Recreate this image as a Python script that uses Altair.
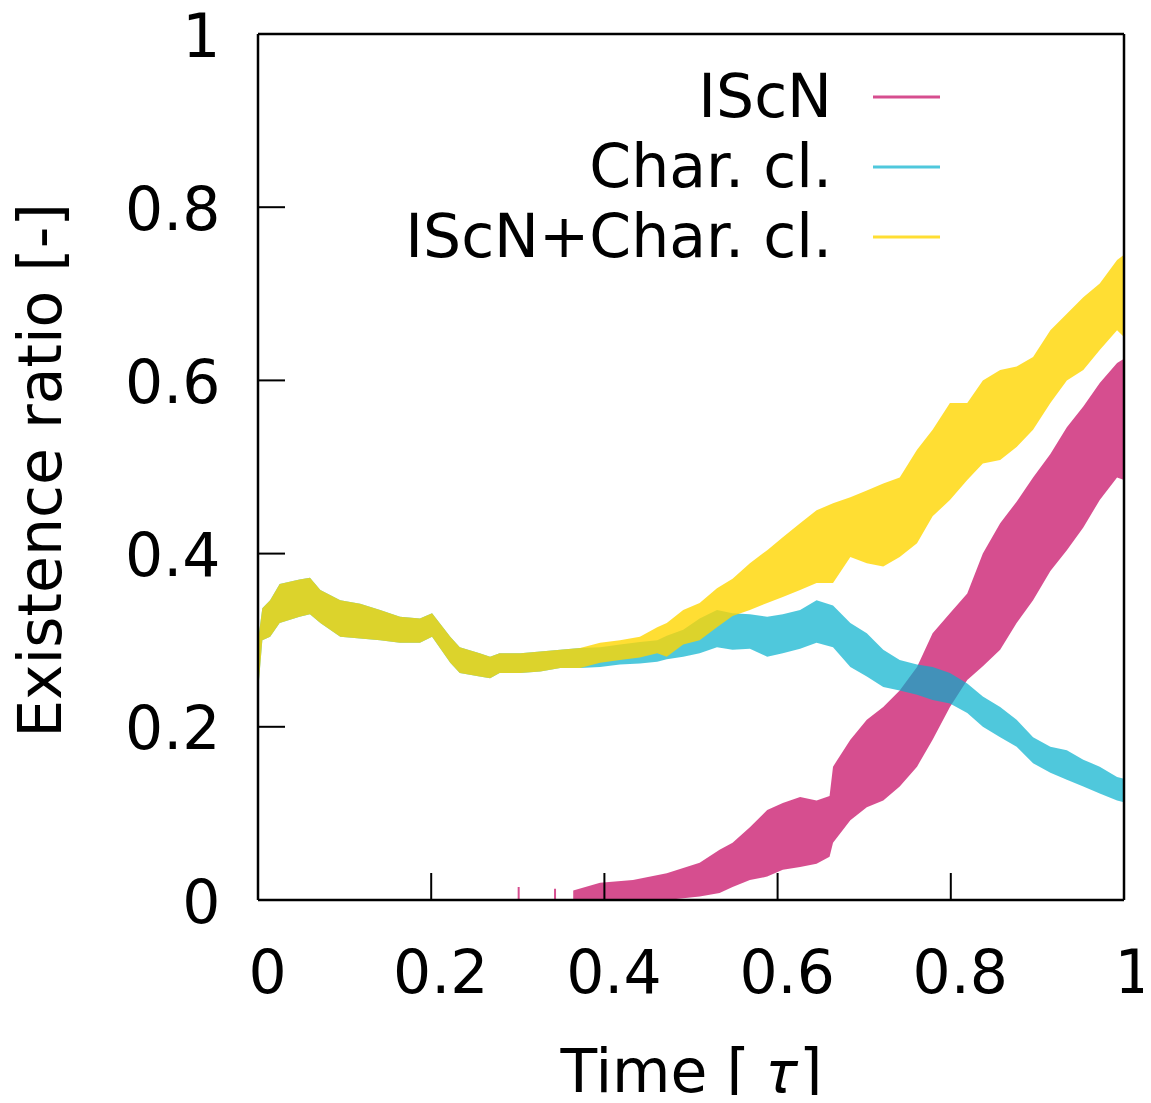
import altair as alt
import pandas as pd

# ---- data (band lower / upper edges) ----
T_ISCN = [0.364, 0.395, 0.433, 0.472, 0.510, 0.533, 0.548, 0.568, 0.588, 0.606,
          0.626, 0.645, 0.660, 0.664, 0.684, 0.703, 0.722, 0.741, 0.761, 0.779,
          0.799, 0.819, 0.837, 0.857, 0.876, 0.895, 0.915, 0.934, 0.953, 0.972,
          0.992, 1.0]
ISCN_LO = [0, 0, 0, 0, 0.004, 0.008, 0.015, 0.023, 0.027, 0.035,
           0.038, 0.042, 0.05, 0.066, 0.092, 0.107, 0.115, 0.131, 0.154, 0.185,
           0.223, 0.254, 0.27, 0.289, 0.32, 0.346, 0.38, 0.404, 0.43, 0.462,
           0.488, 0.485]
ISCN_HI = [0.011, 0.02, 0.023, 0.031, 0.043, 0.058, 0.066, 0.084, 0.104, 0.112,
           0.119, 0.115, 0.12, 0.154, 0.185, 0.208, 0.223, 0.242, 0.269, 0.308,
           0.331, 0.354, 0.40, 0.435, 0.46, 0.488, 0.515, 0.546, 0.57, 0.597,
           0.62, 0.625]
ISCN_SPIKE_T = [0.301, 0.343]
ISCN_SPIKE_V = [0.015, 0.013]

T_MAIN = [0, 0.005, 0.014, 0.025, 0.048, 0.06, 0.072, 0.095, 0.118, 0.141,
          0.164, 0.187, 0.201, 0.222, 0.233, 0.256, 0.268, 0.279, 0.303, 0.326,
          0.349, 0.372, 0.395, 0.418, 0.441, 0.461, 0.472, 0.491, 0.510, 0.530,
          0.548, 0.568, 0.588, 0.606, 0.626, 0.645, 0.664, 0.684, 0.703, 0.722,
          0.741, 0.761, 0.779, 0.799, 0.819, 0.837, 0.857, 0.876, 0.895, 0.915,
          0.934, 0.953, 0.972, 0.992, 1.0]
SUM_LO = [0.24, 0.30, 0.304, 0.32, 0.327, 0.33, 0.32, 0.304, 0.302, 0.30,
          0.297, 0.297, 0.304, 0.274, 0.262, 0.258, 0.256, 0.262, 0.262, 0.264,
          0.268, 0.268, 0.274, 0.277, 0.28, 0.285, 0.281, 0.295, 0.30, 0.315,
          0.328, 0.335, 0.343, 0.35, 0.358, 0.366, 0.366, 0.396, 0.389, 0.385,
          0.396, 0.412, 0.443, 0.462, 0.485, 0.504, 0.508, 0.523, 0.543, 0.574,
          0.60, 0.612, 0.635, 0.658, 0.65]
SUM_HI = [0.30, 0.337, 0.346, 0.365, 0.37, 0.372, 0.358, 0.346, 0.342, 0.335,
          0.327, 0.325, 0.331, 0.304, 0.292, 0.285, 0.281, 0.285, 0.285, 0.287,
          0.289, 0.291, 0.297, 0.30, 0.304, 0.315, 0.32, 0.335, 0.343, 0.36,
          0.371, 0.389, 0.404, 0.419, 0.435, 0.45, 0.458, 0.465, 0.473, 0.481,
          0.488, 0.52, 0.543, 0.574, 0.574, 0.60, 0.612, 0.616, 0.627, 0.658,
          0.677, 0.696, 0.712, 0.739, 0.745]
CHAR_LO = SUM_LO[:22] + [0.269, 0.272, 0.273, 0.275, 0.278, 0.281, 0.285, 0.292, 0.289, 0.29,
                         0.281, 0.285, 0.29, 0.297, 0.292, 0.269, 0.258, 0.246, 0.242, 0.237,
                         0.231, 0.227, 0.216, 0.20, 0.188, 0.177, 0.158, 0.147, 0.139, 0.131,
                         0.123, 0.115, 0.113]
CHAR_HI = SUM_HI[:22] + [0.292, 0.295, 0.298, 0.30, 0.305, 0.312, 0.325, 0.335, 0.331, 0.33,
                         0.327, 0.33, 0.335, 0.346, 0.34, 0.32, 0.308, 0.289, 0.277, 0.272,
                         0.269, 0.262, 0.25, 0.235, 0.223, 0.208, 0.188, 0.177, 0.173, 0.162,
                         0.154, 0.142, 0.14]

SERIES = ["IScN", "Char. cl.", "IScN+Char. cl."]
COLORS = ["#cc2273", "#00b0cd", "#ffd600"]
OPAC = [0.8, 0.69, 0.8]
TICKS = [0.2, 0.4, 0.6, 0.8]
ALL_TICKS = [0, 0.2, 0.4, 0.6, 0.8, 1]

W = 866
H = 866
FONT = "DejaVu Sans"
FS = 60
X_TITLE = "Time [ 𝜏]"
Y_TITLE = "Existence ratio [-]"

xsc = alt.Scale(domain=[0, 1], nice=False, zero=False)
ysc = alt.Scale(domain=[0, 1], nice=False)

x_axis = alt.Axis(values=ALL_TICKS, format=".1~f", labelPadding=45, labelOffset=9,
                  labelFlush=False, labelOverlap=False,
                  title=X_TITLE, titleX=W / 2, titleY=191, titleBaseline="alphabetic",
                  titleAlign="center")
y_axis = alt.Axis(values=ALL_TICKS, format=".1~f", labelPadding=38, labelOffset=4,
                  labelFlush=False, labelOverlap=False,
                  title=Y_TITLE, titleAngle=270, titleX=-198, titleY=436,
                  titleBaseline="alphabetic", titleAlign="center")


def X(field):
    return alt.X(field, scale=xsc, axis=x_axis, title=X_TITLE)


def Y(field):
    return alt.Y(field, scale=ysc, axis=y_axis, title=Y_TITLE)


series_data = [
    (T_ISCN, ISCN_LO, ISCN_HI),
    (T_MAIN, CHAR_LO, CHAR_HI),
    (T_MAIN, SUM_LO, SUM_HI),
]

layers = []
for i, (tt, lo, hi) in enumerate(series_data):
    df = pd.DataFrame({"t": tt, "lo": lo, "hi": hi})
    layers.append(
        alt.Chart(df).mark_area(color=COLORS[i], opacity=OPAC[i], interpolate="linear")
        .encode(x=X("t:Q"), y=Y("lo:Q"), y2="hi:Q")
    )
    if i == 0:
        sp = pd.DataFrame({"t": ISCN_SPIKE_T, "lo": [0, 0], "hi": ISCN_SPIKE_V})
        layers.append(
            alt.Chart(sp).mark_rule(color=COLORS[0], opacity=OPAC[0], strokeWidth=2)
            .encode(x=X("t:Q"), y=Y("lo:Q"), y2="hi:Q")
        )

# inward ticks
tick_df = pd.DataFrame({"t": TICKS})
layers.append(
    alt.Chart(tick_df).mark_rule(color="black", strokeWidth=2)
    .encode(x=X("t:Q"), y=alt.value(H), y2=alt.value(H - 27))
)
layers.append(
    alt.Chart(tick_df).mark_rule(color="black", strokeWidth=2)
    .encode(y=Y("t:Q"), x=alt.value(0), x2=alt.value(27))
)

# border
one = pd.DataFrame({"a": [0]})
for (x1, x2, y1, y2) in [(0, W, 0, 0), (0, W, H, H), (0, 0, 0, H), (W, W, 0, H)]:
    layers.append(
        alt.Chart(one).mark_rule(color="black", strokeWidth=2.5)
        .encode(x=alt.value(x1), x2=alt.value(x2), y=alt.value(y1), y2=alt.value(y2))
    )

# key (gnuplot style, inside top right)
for i, name in enumerate(SERIES):
    ldf = pd.DataFrame({"label": [name]})
    yy = 63 + 70 * i
    layers.append(
        alt.Chart(ldf).mark_text(align="right", baseline="middle", font=FONT,
                                 fontSize=FS, color="black")
        .encode(x=alt.value(574), y=alt.value(yy + 2), text="label:N")
    )
    layers.append(
        alt.Chart(ldf).mark_rule(color=COLORS[i], opacity=OPAC[i], strokeWidth=3)
        .encode(x=alt.value(615), x2=alt.value(682), y=alt.value(yy))
    )

chart = (
    alt.layer(*layers)
    .properties(width=W, height=H,
                padding={"left": 250, "top": 26, "right": 19, "bottom": 195},
                autosize=alt.AutoSizeParams(type="none"))
    .configure_view(stroke=None)
    .configure_axis(domain=False, grid=False, ticks=False, tickSize=0,
                    labelFont=FONT, labelFontSize=FS, labelColor="black",
                    titleFont=FONT, titleFontSize=FS, titleFontWeight="normal",
                    titleColor="black")
)

chart.save("out.html", embed_options={"renderer": "svg", "actions": False})
